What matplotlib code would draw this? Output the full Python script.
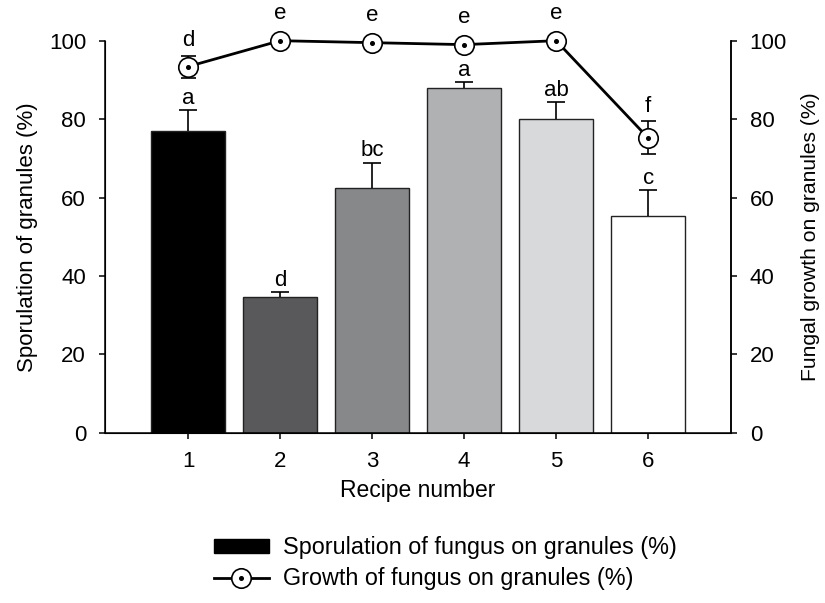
import matplotlib
matplotlib.use("Agg")
import matplotlib.pyplot as plt
from matplotlib.lines import Line2D
from matplotlib.patches import Patch

plt.rcParams['font.family'] = ['Liberation Sans', 'DejaVu Sans']

# Recipe data
recipes = [1, 2, 3, 4, 5, 6]
sporulation = [77.0, 34.7, 62.3, 87.9, 80.1, 55.2]
sporulation_err = [5.2, 1.2, 6.6, 1.5, 4.3, 6.7]
sporulation_letters = ['a', 'd', 'bc', 'a', 'ab', 'c']
growth = [93.4, 100.0, 99.5, 99.0, 100.0, 75.2]
growth_err = [2.8, 0.0, 0.0, 0.0, 0.0, 4.2]
growth_letters = ['d', 'e', 'e', 'e', 'e', 'f']
bar_colors = ['#000000', '#59595b', '#87888a', '#b0b1b3', '#d8d9db', '#ffffff']

fig = plt.figure(figsize=(8.25, 6.03), dpi=100)
ax = fig.add_axes([0.127, 0.2824, 0.759, 0.6501])

ax.bar(recipes, sporulation, width=0.81, color=bar_colors,
       edgecolor='#222222', linewidth=1.0, zorder=2)

# upper-only error bars: stem from bar top plus a single cap
tops = [y + e for y, e in zip(sporulation, sporulation_err)]
ax.vlines(recipes, sporulation, tops, colors='black', linewidth=1.2, zorder=3)
ax.plot(recipes, tops, linestyle='none', marker='_', markersize=12.6,
        markeredgewidth=1.2, color='black', zorder=3)
for x, top, lab in zip(recipes, tops, sporulation_letters):
    ax.annotate(lab, (x, top), xytext=(0, 4.5), textcoords='offset points',
                ha='center', va='baseline', fontsize=16)

ax.set_xlim(0.095, 6.9)
ax.set_ylim(0, 100)
ax.set_xticks(recipes)
ax.set_yticks(range(0, 101, 20))
ax.spines['top'].set_visible(False)
ax.tick_params(axis='both', direction='out', length=4.5, width=1.1, pad=9, labelsize=16)
for s in ['left', 'bottom', 'right']:
    ax.spines[s].set_linewidth(1.1)
ax.set_xlabel('Recipe number', fontsize=16.5, labelpad=5)
ax.set_ylabel('Sporulation of granules (%)', fontsize=16, labelpad=8)

# Growth on the right axis
ax2 = ax.twinx()
ax2.set_ylim(0, 100)
ax2.set_yticks(range(0, 101, 20))
ax2.spines['top'].set_visible(False)
ax2.spines['right'].set_linewidth(1.1)
ax2.tick_params(axis='y', direction='out', length=4.5, width=1.1, pad=9, labelsize=16)
ax2.set_ylabel('Fungal growth on granules (%)', fontsize=15.2, labelpad=10)

ax2.errorbar(recipes, growth, yerr=growth_err, fmt='none', ecolor='black',
             elinewidth=1.2, capsize=5.4, capthick=1.2, zorder=3)
ax2.plot(recipes, growth, color='black', linewidth=2.0, marker='o', markersize=14,
         markerfacecolor='white', markeredgecolor='black', markeredgewidth=1.2,
         clip_on=False, zorder=4)
ax2.plot(recipes, growth, linestyle='none', marker='o', markersize=2.6,
         color='black', clip_on=False, zorder=5)
for x, y, e, lab in zip(recipes, growth, growth_err, growth_letters):
    off = 7 if e > 0 else 15.5
    ax2.annotate(lab, (x, y + e), xytext=(0, off), textcoords='offset points',
                 ha='center', va='baseline', fontsize=16, annotation_clip=False)

# Legend below the axes
bar_handle = Patch(facecolor='black', edgecolor='black')
line_handle = Line2D([], [], color='black', linewidth=2.0, marker='o', markersize=14,
                     markerfacecolor='white', markeredgecolor='black', markeredgewidth=1.2)
dot_handle = Line2D([], [], linestyle='none', marker='o', markersize=2.6, color='black')
fig.legend([bar_handle, (line_handle, dot_handle)],
           ['Sporulation of fungus on granules (%)', 'Growth of fungus on granules (%)'],
           loc='upper left', bbox_to_anchor=(214 / 825, 1 - 536 / 603),
           frameon=False, fontsize=16.8, borderpad=0, borderaxespad=0,
           handlelength=2.35, handleheight=0.55, handletextpad=0.6, labelspacing=0.35)

fig.savefig('out.png', dpi=100)
